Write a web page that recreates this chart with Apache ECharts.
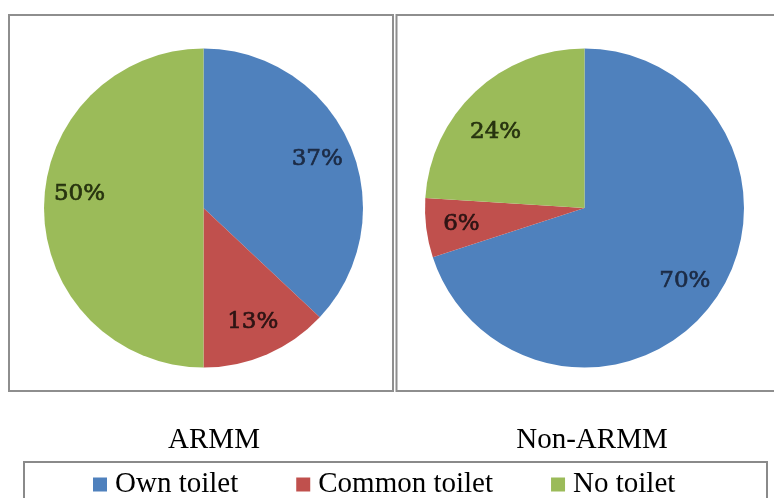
<!DOCTYPE html>
<html>
<head>
<meta charset="utf-8">
<title>Toilet facilities: ARMM vs Non-ARMM</title>
<script src="https://cdn.jsdelivr.net/npm/echarts@6/dist/echarts.min.js"></script>
<style>
  html, body { margin: 0; padding: 0; background: #ffffff; }
  #chart { width: 774px; height: 498px; }
</style>
</head>
<body>
<div id="chart"></div>
<script>
// Household toilet facilities, share of households (%)
const categories = ['Own toilet', 'Common toilet', 'No toilet'];
const regions = ['ARMM', 'Non-ARMM'];
const armmValues = [37, 13, 50];
const nonArmmValues = [70, 6, 24];

const sliceColors = ['#4F81BD', '#C0504D', '#9BBB59'];
const labelColors = ['#1c2b45', '#2e1414', '#27330f'];

const serif = '"Liberation Serif", "Times New Roman", serif';
const labelFont = '"DejaVu Serif", serif';

const pieCenters = [[203.5, 208], [584.5, 208]];
const pieRadius = 159.5;

// best-fit style nudges for individual percentage labels, per region
const labelNudges = [
  [null, null, [0, -14]],
  [null, null, [-4, 14]]
];

function sliceData(values) {
  return categories.map((name, i) => ({
    name: name,
    value: values[i],
    itemStyle: { color: sliceColors[i] }
  }));
}

function labelData(values, nudges) {
  return categories.map((name, i) => {
    const label = { color: labelColors[i], textBorderColor: labelColors[i] };
    if (nudges[i]) label.offset = nudges[i];
    return {
      name: name,
      value: values[i],
      itemStyle: { color: 'rgba(0,0,0,0)' },
      label: label
    };
  });
}

function piePair(values, center, nudges) {
  return [
    {
      type: 'pie',
      center: center,
      radius: pieRadius,
      startAngle: 90,
      clockwise: true,
      silent: true,
      label: { show: false },
      labelLine: { show: false },
      emphasis: { disabled: true },
      data: sliceData(values)
    },
    {
      // transparent ring carrying the percentage labels
      type: 'pie',
      center: center,
      radius: [100, 142],
      startAngle: 90,
      clockwise: true,
      silent: true,
      itemStyle: { color: 'rgba(0,0,0,0)' },
      label: {
        show: true,
        position: 'inside',
        formatter: '{c}%',
        fontFamily: labelFont,
        fontSize: 23,
        textBorderWidth: 0.7
      },
      labelLine: { show: false },
      emphasis: { disabled: true },
      data: labelData(values, nudges)
    }
  ];
}

const chart = echarts.init(document.getElementById('chart'), null, { renderer: 'canvas' });

chart.setOption({
  backgroundColor: '#ffffff',
  animation: false,
  textStyle: { fontFamily: serif },
  graphic: [
    {
      type: 'rect',
      shape: { x: 9, y: 15, width: 384, height: 376 },
      style: { fill: 'none', stroke: '#8e8e8e', lineWidth: 2 },
      z: -1
    },
    {
      type: 'rect',
      shape: { x: 396.5, y: 15, width: 400, height: 376 },
      style: { fill: 'none', stroke: '#8e8e8e', lineWidth: 2 },
      z: -1
    },
    {
      type: 'rect',
      shape: { x: 24, y: 462, width: 743, height: 60 },
      style: { fill: 'none', stroke: '#8a8a8a', lineWidth: 2 },
      z: -1
    }
  ],
  title: [
    {
      text: regions[0],
      left: 209,
      top: 421,
      textAlign: 'center',
      textStyle: { fontFamily: serif, fontSize: 29, fontWeight: 'normal', color: '#000' }
    },
    {
      text: regions[1],
      left: 587,
      top: 421,
      textAlign: 'center',
      textStyle: { fontFamily: serif, fontSize: 29, fontWeight: 'normal', color: '#000' }
    }
  ],
  legend: {
    data: categories,
    left: 93,
    top: 470,
    padding: 0,
    icon: 'rect',
    itemWidth: 14,
    itemHeight: 14,
    itemGap: 58,
    selectedMode: false,
    textStyle: { fontFamily: serif, fontSize: 29, color: '#000', padding: [0, 0, 0, 3] }
  },
  series: [
    ...piePair(armmValues, pieCenters[0], labelNudges[0]),
    ...piePair(nonArmmValues, pieCenters[1], labelNudges[1])
  ]
});
</script>
</body>
</html>
